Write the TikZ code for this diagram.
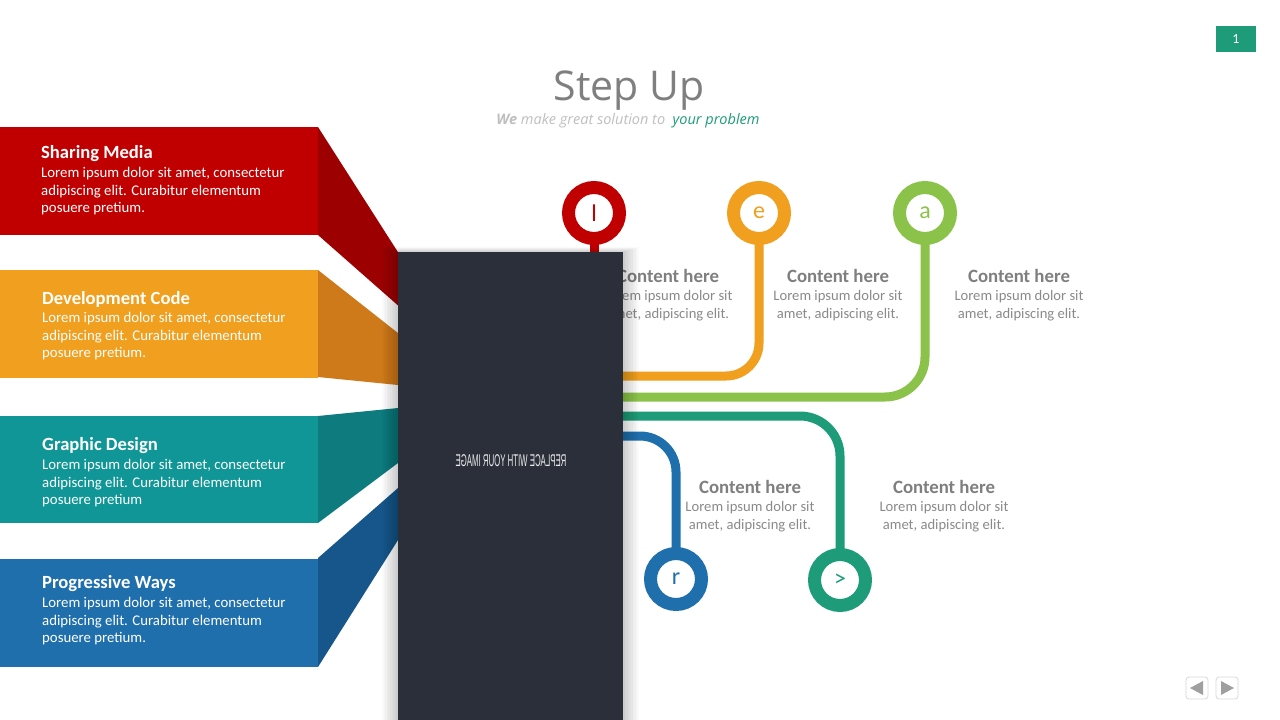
\documentclass[tikz,border=0pt]{standalone}
\usepackage{fontspec}
\setmainfont{Carlito}
\newfontfamily\osans{Open Sans}
\newfontfamily\lsans{Liberation Sans}
\definecolor{cred}{HTML}{C00000}
\definecolor{dred}{HTML}{9C0000}
\definecolor{corange}{HTML}{F09F1E}
\definecolor{dorange}{HTML}{CF7A1A}
\definecolor{cteal}{HTML}{109696}
\definecolor{dteal}{HTML}{0E7B7E}
\definecolor{cblue}{HTML}{1F6FAD}
\definecolor{dblue}{HTML}{17568A}
\definecolor{cgreen}{HTML}{8BC34A}
\definecolor{cjade}{HTML}{1E9B78}
\definecolor{cdark}{HTML}{2A2F3A}
\definecolor{gtitle}{HTML}{7F7F7F}
\definecolor{gbody}{HTML}{8A8A8A}
\definecolor{gsub}{HTML}{BFBFBF}
\pgfdeclarelayer{bg}
\pgfsetlayers{bg,main}
\begin{document}
\begin{tikzpicture}[x=1pt,y=-1pt,
  ring/.style={circle, draw=#1, fill=white, line width=13pt, minimum size=51pt, inner sep=0pt, text=#1, font=\fontsize{24}{24}\selectfont},
  conn/.style={line width=9pt},
  bandhead/.style={anchor=west, inner sep=0pt, text=white, font=\bfseries\fontsize{18.6}{20}\selectfont},
  bandbody/.style={anchor=north west, inner sep=0pt, text=white, align=left, font=\fontsize{14.8}{17.6}\selectfont},
  chead/.style={inner sep=0pt, text=gtitle, font=\bfseries\fontsize{18.8}{20}\selectfont},
  cbody/.style={inner sep=0pt, text=gbody, align=center, font=\fontsize{14.6}{18}\selectfont},
  navbtn/.style={draw=gray!30, fill=white, rounded corners=3pt, minimum size=22pt, inner sep=0pt, line width=0.8pt}
]
\useasboundingbox (0,0) rectangle (1280,720);

% image placeholder
\node[fill=cdark, minimum width=225pt, minimum height=468pt, inner sep=0pt, anchor=north west] (img) at (398,252) {};
\node[text=white!92!black, font=\lsans\fontsize{17}{17}\selectfont, inner sep=0pt] (imgtxt) at (511,461) {\scalebox{-0.46}[1]{REPLACE WITH YOUR IMAGE}};

% circles
\node[ring=cred] (c1) at (594,213) {l};
\node[ring=corange] (c2) at (759,213) {e};
\node[ring=cgreen] (c3) at (925,213) {a};
\node[ring=cblue] (c4) at (676,579) {r};
\node[ring=cjade] (c5) at (840,580) {>};

% connector free ends at the image
\coordinate (oe) at (610,376);
\coordinate (ge) at (610,397);
\coordinate (te) at (610,416);
\coordinate (be) at (610,436);

% title
\node[font=\osans\fontsize{41}{41}\selectfont, text=gtitle, anchor=base, inner sep=0pt] (title) at (629,100) {Step Up};
\node[font=\osans\itshape\fontsize{14.5}{15}\selectfont, text=gsub, anchor=base, inner sep=0pt] (subtitle) at (628,124) {\textbf{We} make great solution to\ \ \textcolor{cjade}{your problem}};

% page number
\node[fill=cjade, minimum width=40pt, minimum height=26pt, inner sep=0pt, text=white, font=\fontsize{14}{14}\selectfont] (pnum) at (1236,39) {1};

% navigation
\node[navbtn] (prev) at (1197,688) {};
\node[navbtn] (next) at (1227,688) {};
\fill[gray!75] (1190,688) -- (1203,681) -- (1203,695) -- cycle;
\fill[gray!75] (1234,688) -- (1221,681) -- (1221,695) -- cycle;

\begin{pgfonlayer}{bg}
\fill[white] (0,0) rectangle (1280,720);
% left bands
\fill[cred] (0,127) rectangle (318,235);
\fill[dred] (318,127) -- (410,271) -- (410,316) -- (318,235) -- cycle;
\fill[corange] (0,270) rectangle (318,378);
\fill[dorange] (318,270) -- (410,342.5) -- (410,386.2) -- (318,377) -- cycle;
\fill[cteal] (0,416) rectangle (318,523);
\fill[dteal] (318,416) -- (410,406.8) -- (410,454) -- (318,523) -- cycle;
\fill[cblue] (0,559) rectangle (318,667);
\fill[dblue] (318,558) -- (410,477.5) -- (410,521) -- (318,667) -- cycle;

\node[bandhead] (h1) at (41,154) {Sharing Media};
\node[bandbody] (b1) at (41,167) {Lorem ipsum dolor sit amet, consectetur\\adipiscing elit. Curabitur elementum\\posuere pretium.};
\node[bandhead] (h2) at (42,299) {Development Code};
\node[bandbody] (b2) at (42,312) {Lorem ipsum dolor sit amet, consectetur\\adipiscing elit. Curabitur elementum\\posuere pretium.};
\node[bandhead] (h3) at (42,446) {Graphic Design};
\node[bandbody] (b3) at (42,459) {Lorem ipsum dolor sit amet, consectetur\\adipiscing elit. Curabitur elementum\\posuere pretium};
\node[bandhead] (h4) at (42,584) {Progressive Ways};
\node[bandbody] (b4) at (42,597) {Lorem ipsum dolor sit amet, consectetur\\adipiscing elit. Curabitur elementum\\posuere pretium.};

% connectors
\draw[conn, cred] (c1.center) -- (c1.center |- img.north);
\draw[conn, corange, rounded corners=33pt] (c2.center) |- (oe);
\draw[conn, cgreen, rounded corners=40pt] (c3.center) |- (ge);
\draw[conn, cjade, rounded corners=40pt] (te) -| (c5.center);
\draw[conn, cblue, rounded corners=36pt] (be) -| (c4.center);

% content texts
\node[chead] (t1) at (668,276) {Content here};
\node[cbody] (d1) at (668,306) {Lorem ipsum dolor sit\\amet, adipiscing elit.};
\node[chead] (t2) at (838,276) {Content here};
\node[cbody] (d2) at (838,306) {Lorem ipsum dolor sit\\amet, adipiscing elit.};
\node[chead] (t3) at (1019,276) {Content here};
\node[cbody] (d3) at (1019,306) {Lorem ipsum dolor sit\\amet, adipiscing elit.};
\node[chead] (t4) at (750,487) {Content here};
\node[cbody] (d4) at (750,517) {Lorem ipsum dolor sit\\amet, adipiscing elit.};
\node[chead] (t5) at (944,487) {Content here};
\node[cbody] (d5) at (944,517) {Lorem ipsum dolor sit\\amet, adipiscing elit.};

% image shadow
\foreach \i in {1,...,10}
  \fill[black, opacity=0.02] ({398-1.6*\i},{252-0.5*\i}) rectangle ({623+1.6*\i},720);
\end{pgfonlayer}
\end{tikzpicture}
\end{document}
